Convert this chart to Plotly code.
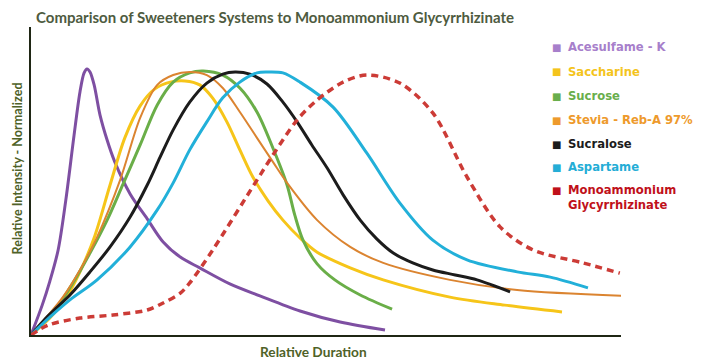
import plotly.graph_objects as go

# ---- data (relative duration 0-100, relative intensity 0-100) ----
series_names = ["Acesulfame - K", "Saccharine", "Sucrose", "Stevia - Reb-A 97%",
                "Sucralose", "Aspartame", "Monoammonium<br>Glycyrrhizinate"]

acesulfame_x = [0, 1.9, 3.2, 4.6, 5.9, 7.3, 8.3, 9.0, 9.5, 10.0, 10.7, 11.7, 12.9, 14.2, 16.8, 19.7, 22.4, 25.3, 28.6, 33.7, 38.8, 45.6, 52.4, 60.0]
acesulfame_y = [0, 9.7, 17.5, 27.6, 43.8, 64.9, 78.9, 85.1, 86.4, 85.4, 81.2, 71.4, 63.3, 56.2, 45.8, 37.7, 30.2, 25.3, 21.8, 16.6, 12.7, 7.8, 4.2, 1.6]

saccharine_x = [0, 3.2, 5.8, 8.3, 10.8, 13.4, 15.9, 18.5, 21.0, 23.6, 26.1, 28.6, 30.8, 33.2, 35.4, 37.6, 40.2, 42.7, 45.6, 48.5, 54.1, 59.7, 71.0, 80.3, 90.0]
saccharine_y = [0, 5.5, 11.7, 20.5, 32.1, 48.7, 64.0, 74.4, 79.9, 82.1, 82.5, 81.2, 76.9, 69.2, 60.1, 51.3, 43.5, 37.3, 31.5, 26.9, 21.8, 17.9, 12.3, 9.7, 7.5]

sucrose_x = [0, 4.4, 7.1, 10.0, 12.9, 15.6, 18.5, 21.4, 24.1, 26.9, 29.2, 32.5, 35.4, 38.3, 41.0, 43.4, 44.7, 46.1, 48.5, 51.5, 55.8, 61.2]
sucrose_y = [0, 9.1, 16.9, 26.6, 37.3, 49.0, 61.7, 74.7, 82.1, 85.1, 85.7, 84.4, 80.2, 72.4, 60.7, 48.7, 39.0, 30.8, 23.1, 17.9, 13.0, 8.4]

stevia_x = [0, 5.4, 8.3, 11.2, 15.1, 18.5, 21.4, 24.1, 26.9, 29.8, 32.5, 35.4, 38.3, 41.0, 43.4, 48.5, 54.1, 59.7, 71.0, 82.4, 100.3]
stevia_y = [0, 12.3, 21.1, 31.8, 50.3, 70.5, 81.2, 84.4, 85.4, 84.4, 80.2, 72.4, 64.0, 56.2, 49.4, 37.3, 28.6, 23.4, 17.9, 14.6, 12.7]

sucralose_x = [0, 2.9, 6.6, 10.0, 13.4, 16.8, 19.7, 21.9, 24.1, 26.9, 29.8, 32.5, 34.6, 37.1, 40.0, 42.7, 45.1, 47.6, 50.2, 52.9, 55.8, 58.6, 61.4, 64.7, 68.1, 71.9, 75.6, 81.2]
sucralose_y = [0, 6.2, 13.0, 20.5, 28.6, 38.3, 48.7, 57.8, 66.6, 75.6, 81.8, 84.7, 85.4, 84.7, 81.5, 75.6, 69.2, 61.7, 54.2, 45.5, 37.3, 31.2, 26.6, 23.4, 21.1, 19.5, 17.9, 14.0]

aspartame_x = [0, 3.2, 6.6, 11.2, 16.8, 21.4, 24.1, 26.9, 29.8, 32.5, 35.4, 38.3, 40.0, 42.7, 45.6, 51.2, 56.9, 62.5, 68.1, 73.9, 82.4, 88.0, 94.4]
aspartame_y = [0, 5.8, 11.4, 17.9, 28.6, 40.6, 49.4, 60.1, 69.2, 77.0, 82.1, 85.1, 85.4, 85.1, 82.1, 74.0, 59.1, 42.9, 30.8, 24.4, 20.5, 18.8, 15.3]

mono_x = [0, 2.9, 8.3, 13.9, 19.7, 22.4, 25.3, 26.9, 30.8, 38.0, 41.0, 45.1, 48.5, 52.9, 56.9, 62.5, 68.1, 73.9, 79.5, 85.1, 93.6, 99.8]
mono_y = [0, 3.2, 5.5, 6.5, 8.1, 10.4, 13.6, 16.9, 27.6, 49.4, 58.4, 69.8, 76.3, 82.1, 84.4, 81.8, 72.1, 51.3, 35.1, 27.6, 23.4, 20.1]

xs = [acesulfame_x, saccharine_x, sucrose_x, stevia_x, sucralose_x, aspartame_x, mono_x]
ys = [acesulfame_y, saccharine_y, sucrose_y, stevia_y, sucralose_y, aspartame_y, mono_y]

# ---- styles ----
line_colors = ["#7E4FA2", "#F6C519", "#6AAE48", "#DB8430", "#1C1C1C", "#22B0D9", "#CC3B36"]
text_colors = ["#A77FCB", "#F4C41C", "#69AE4C", "#EE9A2C", "#1C1C1C", "#24ADD6", "#C0101A"]
widths = [3, 3, 3, 2, 3, 3, 3.5]
dashes = ["solid"] * 6 + ["7px,5px"]

OFF = 8  # page body margin
W, H = 701 - OFF, 364 - OFF
L, R, T, B = 31, 621, 27, 335  # plot area in window pixels

fig = go.Figure()
for x, y, c, w, d, n in zip(xs, ys, line_colors, widths, dashes, series_names):
    fig.add_trace(go.Scatter(x=x, y=y, mode="lines", name=n,
                             line=dict(color=c, width=w, dash=d, shape="spline", smoothing=0.9),
                             showlegend=False))

def px_x(p):
    return (p - L) / (R - L)

def px_y(p):
    return (B - p) / (B - T)

ann = []
ann.append(dict(text="<b>Comparison of Sweeteners Systems to Monoammonium Glycyrrhizinate</b>",
                x=px_x(34), y=px_y(17), xref="paper", yref="paper", xanchor="left", yanchor="middle",
                showarrow=False, font=dict(family="Lato", size=15, color="#4E5B40")))
ann.append(dict(text="<b>Relative Intensity - Normalized</b>", x=px_x(17), y=px_y(168.5),
                xref="paper", yref="paper", textangle=-90, showarrow=False,
                xanchor="center", yanchor="middle",
                font=dict(family="Lato", size=12.6, color="#4F6228")))
ann.append(dict(text="<b>Relative Duration</b>", x=px_x(313.5), y=px_y(351),
                xref="paper", yref="paper", showarrow=False, xanchor="center", yanchor="middle",
                font=dict(family="Lato", size=13.7, color="#4F6228")))

legend_y = [47, 72, 96, 120, 144, 167, 197]
for n, tc, yy in zip(series_names, text_colors, legend_y):
    sq_y = yy if "<br>" not in n else yy - 7
    ann.append(dict(text="■", x=px_x(556), y=px_y(sq_y), xref="paper", yref="paper",
                    xanchor="center", yanchor="middle", showarrow=False,
                    font=dict(family="DejaVu Sans", size=10, color=tc)))
    ann.append(dict(text="<b>" + n + "</b>", x=px_x(566), y=px_y(yy), xref="paper", yref="paper",
                    xanchor="left", yanchor="middle", align="left", showarrow=False,
                    font=dict(family="DejaVu Sans", size=11.6, color=tc)))

fig.update_layout(
    width=W, height=H,
    margin=dict(l=L - OFF, r=701 - R, t=T - OFF, b=364 - B, pad=0),
    paper_bgcolor="white", plot_bgcolor="white",
    xaxis=dict(range=[0, 100], showgrid=False, zeroline=False, showticklabels=False, ticks="",
               showline=True, linecolor="#1F2614", linewidth=1.5),
    yaxis=dict(range=[0, 100], showgrid=False, zeroline=False, showticklabels=False, ticks="",
               showline=True, linecolor="#1F2614", linewidth=1.5),
    annotations=ann,
    showlegend=False,
)

fig.write_html("out.html")
